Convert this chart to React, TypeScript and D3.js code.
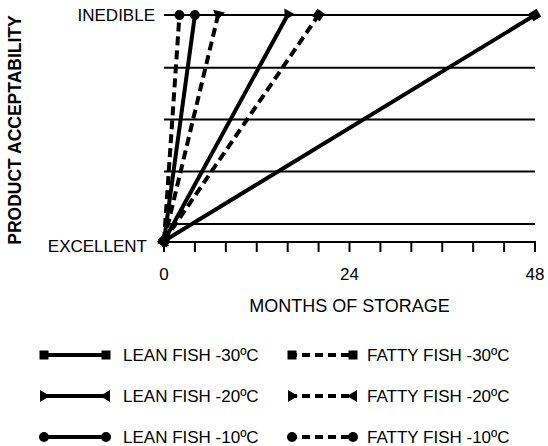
import React, { useRef, useEffect } from "react";
import * as d3 from "d3";

// months until the product becomes inedible
const temps = ["-30ºC", "-20ºC", "-10ºC"];
const leanMonths = [48, 16, 4];
const fattyMonths = [20, 7, 2];
const markerKinds = ["square", "triangle", "circle"];

// acceptability: 0 = excellent, 100 = inedible
const levelNames = ["EXCELLENT", "INEDIBLE"];
const levelValues = [0, 100];
const gridLevels = [7.5, 30.7, 53.8, 76.7, 100];

const tickMonths = [0, 4, 8, 12, 16, 20, 24, 28, 32, 36, 40, 44, 48];
const tickLabels = [0, 24, 48];

const App = () => {
  const svgRef = useRef<SVGSVGElement>(null);
  const width = 548;
  const height = 446;
  const font = "'Liberation Sans', Arial, Helvetica, sans-serif";

  useEffect(() => {
    const svg = d3.select(svgRef.current);
    svg.selectAll("*").remove();

    const x = d3.scaleLinear().domain([0, 48]).range([164, 535]);
    const y = d3.scaleLinear().domain([0, 100]).range([241, 15]);

    // markers
    const defs = svg.append("defs");
    const mk = (id, draw) => {
      const m = defs
        .append("marker")
        .attr("id", id)
        .attr("markerUnits", "userSpaceOnUse")
        .attr("orient", "auto")
        .attr("viewBox", "-7 -7 14 14")
        .attr("refX", 0)
        .attr("refY", 0)
        .attr("markerWidth", 14)
        .attr("markerHeight", 14)
        .attr("overflow", "visible");
      draw(m);
    };
    mk("square", (m) => m.append("rect").attr("x", -4.5).attr("y", -4.5).attr("width", 9).attr("height", 9));
    mk("circle", (m) => m.append("circle").attr("r", 5));
    mk("triStart", (m) => m.append("path").attr("d", "M-4,-6L6,0L-4,6Z"));
    mk("triEnd", (m) => m.append("path").attr("d", "M4,-6L-6,0L4,6Z"));

    const startId = (k) => (k === "triangle" ? "triStart" : k);
    const endId = (k) => (k === "triangle" ? "triEnd" : k);

    // gridlines
    svg
      .append("g")
      .selectAll("line")
      .data(gridLevels)
      .join("line")
      .attr("x1", x(0))
      .attr("x2", x(48))
      .attr("y1", (d) => y(d))
      .attr("y2", (d) => y(d))
      .attr("stroke", "#000")
      .attr("stroke-width", 2);

    // x axis
    const axis = svg.append("g").attr("transform", `translate(0,${y(0) + 1})`);
    axis
      .append("line")
      .attr("x1", x(0) - 1)
      .attr("x2", x(48) + 1)
      .attr("stroke", "#000")
      .attr("stroke-width", 2);
    axis
      .selectAll(".tick")
      .data(tickMonths)
      .join("line")
      .attr("class", "tick")
      .attr("x1", (d) => x(d))
      .attr("x2", (d) => x(d))
      .attr("y1", 0)
      .attr("y2", 10)
      .attr("stroke", "#000")
      .attr("stroke-width", 2);
    axis
      .selectAll("text")
      .data(tickLabels)
      .join("text")
      .attr("x", (d) => x(d))
      .attr("y", 38)
      .attr("text-anchor", "middle")
      .attr("font-size", 17)
      .attr("font-family", font)
      .text((d) => d);

    svg
      .append("text")
      .attr("x", x(24))
      .attr("y", 312)
      .attr("text-anchor", "middle")
      .attr("font-size", 18)
      .attr("font-family", font)
      .text("MONTHS OF STORAGE");

    // y level labels
    svg
      .append("g")
      .selectAll("text")
      .data(levelNames)
      .join("text")
      .attr("x", (d, i) => (i === 0 ? 147 : 155))
      .attr("y", (d, i) => y(levelValues[i]) + (i === 0 ? 11 : 6))
      .attr("text-anchor", "end")
      .attr("font-size", 17)
      .attr("font-family", font)
      .text((d) => d);

    svg
      .append("text")
      .attr("transform", `translate(21,130) rotate(-90)`)
      .attr("text-anchor", "middle")
      .attr("font-size", 17.5)
      .attr("font-weight", "bold")
      .attr("font-family", font)
      .text("PRODUCT ACCEPTABILITY");

    // series lines
    const series = [
      ...temps.map((t, i) => ({ months: leanMonths[i], kind: markerKinds[i], dashed: false })),
      ...temps.map((t, i) => ({ months: fattyMonths[i], kind: markerKinds[i], dashed: true })),
    ];
    const line = d3
      .line()
      .x((d) => x(d[0]))
      .y((d) => y(d[1]));

    svg
      .append("g")
      .selectAll("path")
      .data(series)
      .join("path")
      .attr("d", (d) => line([[0, 0], [d.months, 100]]))
      .attr("fill", "none")
      .attr("stroke", "#000")
      .attr("stroke-width", 4)
      .attr("stroke-dasharray", (d) => (d.dashed ? "9,5" : null))
      .attr("marker-start", (d) => `url(#${startId(d.kind)})`)
      .attr("marker-end", (d) => `url(#${endId(d.kind)})`);

    // legend
    const legendRows = [355, 396, 437];
    const cols = [
      { x1: 44, x2: 106, tx: 123, name: "LEAN FISH ", dashed: false },
      { x1: 292, x2: 353, tx: 367, name: "FATTY FISH ", dashed: true },
    ];
    cols.forEach((c) => {
      const g = svg.append("g");
      temps.forEach((t, i) => {
        g.append("line")
          .attr("x1", c.x1)
          .attr("x2", c.x2)
          .attr("y1", legendRows[i])
          .attr("y2", legendRows[i])
          .attr("stroke", "#000")
          .attr("stroke-width", 4)
          .attr("stroke-dasharray", c.dashed ? "8,5" : null)
          .attr("stroke-dashoffset", c.dashed ? 3 : null)
          .attr("marker-start", `url(#${startId(markerKinds[i])})`)
          .attr("marker-end", `url(#${endId(markerKinds[i])})`);
        g.append("text")
          .attr("x", c.tx)
          .attr("y", legendRows[i] + 6)
          .attr("font-size", 17)
          .attr("font-family", font)
          .text(c.name + t);
      });
    });
  }, []);

  return (
    <svg
      ref={svgRef}
      width={width}
      height={height}
      style={{ position: "absolute", left: 0, top: 0, background: "#fff" }}
    ></svg>
  );
};

export default App;
